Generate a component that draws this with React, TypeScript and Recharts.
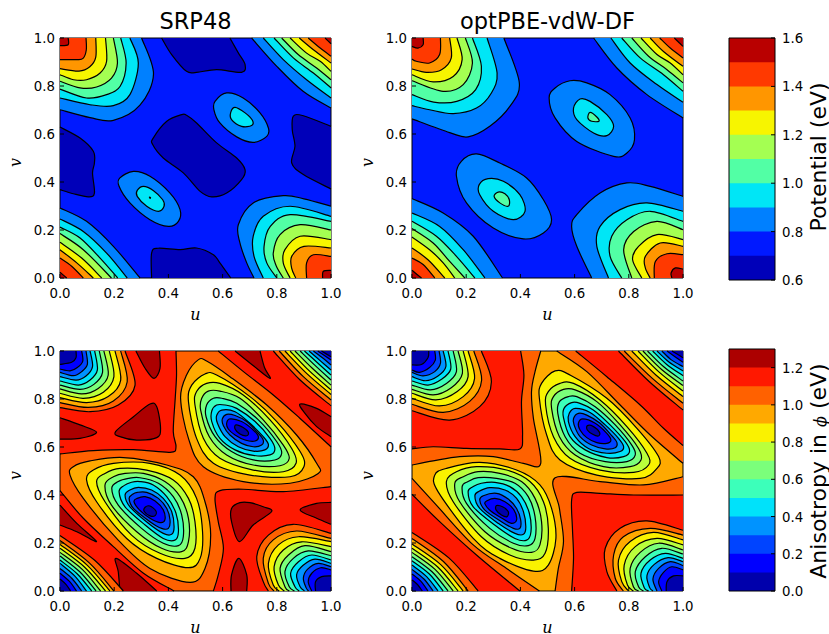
import React from 'react';
import {
  Label,
  ReferenceArea,
  Scatter,
  ScatterChart,
  XAxis,
  YAxis,
} from 'recharts';

type Pt = number[];
type Contour = [number, Pt[], Pt?];

const potentialBins = [0.6, 0.7, 0.8, 0.9, 1.0, 1.1, 1.2, 1.3, 1.4, 1.5];
const potentialColors = ['#0000b9', '#0019ff', '#0080ff', '#00e6f6', '#52ffa5', '#a4ff52', '#f7f500', '#ff9600', '#ff3900', '#b90000'];
const potentialTicks = [0.6, 0.8, 1.0, 1.2, 1.4, 1.6];

const anisotropyBins = [0, 0.1, 0.2, 0.3, 0.4, 0.5, 0.6, 0.7, 0.8, 0.9, 1.0, 1.1, 1.2];
const anisotropyColors = ['#0000ac', '#0000ff', '#0044ff', '#0093ff', '#00e2fa', '#3cffba', '#7bff7b', '#baff3c', '#faf200', '#ffa900', '#ff6100', '#ff1800', '#ac0000'];
const anisotropyTicks = [0, 0.2, 0.4, 0.6, 0.8, 1.0, 1.2];

const axisTicks = [0, 0.2, 0.4, 0.6, 0.8, 1.0];

// contours: [colour index, points in (u, v), corner that closes the region]
const srpPotential: Contour[] = [
  [0, [[.375,1],[.412,.931],[.467,.861],[.504,.857],[.578,.868],[.67,.857],[.683,.889],[.658,.938],[.627,1]]],
  [0, [[0,.629],[.074,.583],[.123,.528],[.127,.479],[.12,.438],[.127,.354],[.105,.338],[.049,.351],[0,.368]]],
  [0, [[1,.632],[.898,.676],[.861,.674],[.857,.618],[.867,.549],[.855,.479],[.898,.431],[1,.371]]],
  [0, [[.449,.681],[.394,.653],[.344,.583],[.342,.556],[.381,.5],[.455,.438],[.517,.361],[.56,.338],[.615,.354],[.67,.41],[.683,.451],[.652,.5],[.578,.563],[.504,.646],[.467,.678]]],
  [0, [[.338,0],[.338,.104],[.362,.124],[.443,.118],[.504,.125],[.566,.097],[.59,.063],[.63,0]]],
  [2, [[.615,.771],[.572,.736],[.568,.701],[.59,.646],[.652,.588],[.713,.565],[.763,.59],[.769,.625],[.738,.688],[.676,.75]]],
  [3, [[.646,.711],[.63,.69],[.633,.66],[.67,.632],[.707,.635],[.71,.657],[.683,.688]]],
  [2, [[.271,.444],[.221,.417],[.218,.382],[.258,.313],[.332,.243],[.4,.215],[.437,.236],[.443,.285],[.406,.354],[.332,.424]]],
  [3, [[.308,.382],[.285,.365],[.285,.34],[.32,.299],[.363,.278],[.384,.299],[.379,.326],[.344,.365]]],
  [4, [[.33,.337],[.334,.335],[.332,.332]]],
  // top left
  [2, [[.301,1],[.345,.85],[.295,.72],[.197,.657],[.111,.668],[0,.701]], [0,1]],
  [3, [[.258,1],[.289,.896],[.258,.764],[.197,.718],[.111,.722],[0,.75]], [0,1]],
  [4, [[.224,1],[.244,.896],[.222,.799],[.172,.764],[.098,.75],[0,.787]], [0,1]],
  [5, [[.197,1],[.212,.896],[.19,.833],[.135,.796],[.074,.792],[0,.82]], [0,1]],
  [6, [[.168,1],[.172,.903],[.148,.854],[.098,.826],[.05,.826],[0,.847]], [0,1]],
  [7, [[.132,1],[.132,.92],[.11,.88],[.07,.862],[0,.872]], [0,1]],
  [8, [[.096,1],[.097,.95],[.085,.915],[.06,.91],[0,.91]], [0,1]],
  [9, [[.03,1],[.03,.972],[0,.968]], [0,1]],
  // top right
  [2, [[.707,1],[.8,.882],[.897,.778],[1,.708]], [1,1]],
  [3, [[.75,1],[.824,.91],[.91,.826],[1,.75]], [1,1]],
  [4, [[.79,1],[.861,.917],[.935,.854],[1,.792]], [1,1]],
  [5, [[.818,1],[.879,.931],[.947,.875],[1,.826]], [1,1]],
  [6, [[.849,1],[.91,.937],[.96,.903],[1,.861]], [1,1]],
  [7, [[.883,1],[.935,.951],[1,.896]], [1,1]],
  [8, [[.916,1],[.96,.958],[1,.924]], [1,1]],
  [9, [[.978,1],[1,.976]], [1,1]],
  // bottom left
  [2, [[0,.292],[.098,.236],[.197,.132],[.295,0]], [0,0]],
  [3, [[0,.246],[.086,.194],[.172,.104],[.248,0]], [0,0]],
  [4, [[0,.212],[.074,.167],[.148,.083],[.213,0]], [0,0]],
  [5, [[0,.185],[.086,.118],[.19,0]], [0,0]],
  [6, [[0,.149],[.08,.083],[.154,0]], [0,0]],
  [7, [[0,.118],[.062,.063],[.123,0]], [0,0]],
  [8, [[0,.083],[.043,.049],[.086,0]], [0,0]],
  [9, [[0,.024],[.025,0]], [0,0]],
  // bottom right
  [2, [[1,.299],[.9,.33],[.824,.343],[.713,.313],[.658,.222],[.664,.146],[.689,.063],[.716,0]], [1,0]],
  [3, [[1,.257],[.849,.299],[.75,.257],[.713,.174],[.716,.09],[.75,0]], [1,0]],
  [4, [[1,.236],[.849,.264],[.776,.215],[.753,.132],[.763,.063],[.8,0]], [1,0]],
  [5, [[1,.2],[.886,.222],[.812,.181],[.787,.104],[.798,.05],[.824,0]], [1,0]],
  [6, [[1,.16],[.886,.174],[.83,.118],[.824,.062],[.849,0]], [1,0]],
  [7, [[1,.125],[.9,.132],[.855,.09],[.855,.04],[.87,0]], [1,0]],
  [8, [[1,.09],[.935,.097],[.91,.063],[.91,0]], [1,0]],
  [9, [[1,.032],[.972,.028],[.969,0]], [1,0]],
];

const optPotential: Contour[] = [
  [2, [[.583,.822],[.528,.792],[.506,.75],[.528,.667],[.608,.569],[.744,.507],[.793,.521],[.821,.576],[.805,.667],[.731,.764],[.645,.813]]],
  [3, [[.62,.746],[.596,.708],[.608,.66],[.67,.604],[.719,.593],[.744,.632],[.719,.681],[.657,.736]]],
  [4, [[.657,.69],[.649,.667],[.663,.653],[.69,.653],[.682,.671]]],
  [2, [[.238,.517],[.182,.486],[.164,.424],[.201,.313],[.3,.208],[.411,.163],[.485,.188],[.515,.243],[.485,.326],[.423,.417],[.324,.479]]],
  [3, [[.281,.414],[.248,.389],[.25,.347],[.3,.278],[.374,.243],[.417,.278],[.398,.347],[.337,.403]]],
  [4, [[.318,.358],[.303,.34],[.324,.313],[.355,.299],[.359,.326],[.343,.351]]],
  // top left
  [2, [[.339,1],[.396,.813],[.361,.715],[.287,.632],[.207,.588],[.139,.606],[0,.663]], [0,1]],
  [3, [[.277,1],[.314,.854],[.293,.771],[.238,.708],[.152,.685],[.065,.701],[0,.718]], [0,1]],
  [4, [[.223,1],[.256,.882],[.235,.785],[.165,.736],[.08,.733],[0,.764]], [0,1]],
  [5, [[.197,1],[.223,.896],[.189,.806],[.115,.778],[0,.822]], [0,1]],
  [6, [[.166,1],[.185,.91],[.152,.84],[.078,.817],[0,.847]], [0,1]],
  [7, [[.139,1],[.145,.917],[.109,.868],[.053,.857],[0,.871]], [0,1]],
  [8, [[.105,1],[.102,.931],[.065,.896],[.016,.903],[0,.912]], [0,1]],
  [9, [[.041,1],[.041,.972],[.022,.958],[0,.965]], [0,1]],
  // top right
  [2, [[.67,1],[.756,.875],[.867,.764],[1,.667]], [1,1]],
  [3, [[.734,1],[.805,.896],[.904,.806],[1,.732]], [1,1]],
  [4, [[.774,1],[.842,.917],[.928,.847],[1,.778]], [1,1]],
  [5, [[.811,1],[.873,.924],[.941,.868],[1,.813]], [1,1]],
  [6, [[.845,1],[.904,.931],[.953,.896],[1,.847]], [1,1]],
  [7, [[.879,1],[.928,.944],[1,.882]], [1,1]],
  [8, [[.914,1],[.953,.958],[1,.917]], [1,1]],
  [9, [[.968,1],[1,.965]], [1,1]],
  // bottom left
  [2, [[0,.331],[.115,.271],[.226,.174],[.334,0]], [0,0]],
  [3, [[0,.271],[.102,.215],[.189,.118],[.269,0]], [0,0]],
  [4, [[0,.236],[.09,.174],[.164,.09],[.232,0]], [0,0]],
  [5, [[0,.206],[.078,.146],[.139,.069],[.195,0]], [0,0]],
  [6, [[0,.171],[.065,.118],[.115,.063],[.158,0]], [0,0]],
  [7, [[0,.125],[.059,.076],[.121,0]], [0,0]],
  [8, [[0,.083],[.041,.056],[.084,0]], [0,0]],
  [9, [[0,.032],[.035,0]], [0,0]],
  // bottom right
  [2, [[1,.34],[.879,.382],[.793,.396],[.694,.354],[.608,.264],[.589,.215],[.608,.132],[.663,0]], [1,0]],
  [3, [[1,.278],[.867,.313],[.768,.285],[.694,.215],[.682,.132],[.725,0]], [1,0]],
  [4, [[1,.236],[.879,.278],[.793,.243],[.737,.174],[.731,.09],[.774,0]], [1,0]],
  [5, [[1,.201],[.904,.236],[.818,.194],[.781,.118],[.811,0]], [1,0]],
  [6, [[1,.16],[.904,.181],[.836,.132],[.814,.076],[.848,0]], [1,0]],
  [7, [[1,.132],[.916,.146],[.861,.09],[.861,.042],[.879,0]], [1,0]],
  [8, [[1,.097],[.941,.101],[.898,.069],[.894,0]], [1,0]],
  [9, [[1,.037],[.972,.042],[.956,.021],[.959,0]], [1,0]],
];

const srpAnisotropy: Contour[] = [
  // red regions
  [11, [[.428,1],[.43,.9],[.425,.8],[.418,.665],[.428,.6],[.406,.578],[.271,.589],[.123,.585],[0,.571]], [0,1]],
  [11, [[.584,1],[.677,.914],[.787,.817],[.886,.719],[1,.601]], [1,1]],
  [11, [[0,.418],[.086,.303],[.197,.185],[.308,.074],[.421,0]], [0,0]],
  [11, [[1,.435],[.824,.414],[.676,.424],[.59,.418],[.572,.386],[.584,.289],[.603,.178],[.584,.067],[.566,0]], [1,0]],
  // dark red patches
  [12, [[.646,1],[.71,.942],[.775,.886],[.755,.93],[.738,1]]],
  [12, [[.28,1],[.314,.928],[.347,.886],[.369,.928],[.367,1]]],
  [12, [[0,.722],[.074,.692],[.135,.661],[.074,.636],[0,.633]]],
  [12, [[.205,.664],[.271,.726],[.332,.779],[.357,.768],[.371,.678],[.357,.639],[.283,.629],[.221,.643]]],
  [12, [[1,.726],[.947,.761],[.886,.779],[.904,.74],[.947,.685],[1,.643]]],
  [12, [[.664,.368],[.633,.344],[.633,.289],[.662,.206],[.713,.275],[.781,.331],[.75,.351],[.701,.368]]],
  [12, [[1,.369],[.947,.365],[.886,.338],[.947,.303],[1,.278]]],
  [12, [[0,.358],[.062,.282],[.135,.206],[.062,.247],[0,.275]]],
  [12, [[.221,0],[.215,.08],[.207,.136],[.283,.074],[.357,0]]],
  [12, [[.631,0],[.633,.067],[.66,.136],[.689,.067],[.689,0]]],
  // top left
  [10, [[.24,1],[.277,.858],[.215,.775],[.111,.747],[0,.764]], [0,1]],
  [9, [[.224,1],[.248,.872],[.197,.792],[.105,.765],[0,.785]], [0,1]],
  [8, [[.203,1],[.224,.879],[.178,.81],[.098,.785],[0,.806]], [0,1]],
  [7, [[.182,1],[.199,.893],[.16,.828],[.086,.803],[0,.824]], [0,1]],
  [6, [[.162,1],[.178,.9],[.141,.844],[.08,.821],[0,.842]], [0,1]],
  [5, [[.145,1],[.157,.911],[.125,.861],[.074,.84],[0,.858]], [0,1]],
  [4, [[.128,1],[.138,.921],[.111,.879],[.068,.858],[0,.875]], [0,1]],
  [3, [[.111,1],[.12,.935],[.096,.896],[.059,.879],[0,.893]], [0,1]],
  [2, [[.096,1],[.101,.944],[.08,.914],[.049,.897],[0,.911]], [0,1]],
  [1, [[.08,1],[.084,.958],[.064,.931],[.037,.917],[0,.925]], [0,1]],
  [0, [[.059,1],[.059,.972],[.043,.953],[0,.944]], [0,1]],
  // top right
  [10, [[.787,1],[.886,.879],[1,.772]], [1,1]],
  [9, [[.809,1],[.898,.893],[1,.796]], [1,1]],
  [8, [[.83,1],[.91,.907],[1,.819]], [1,1]],
  [7, [[.849,1],[.92,.917],[1,.838]], [1,1]],
  [6, [[.867,1],[.931,.928],[1,.858]], [1,1]],
  [5, [[.886,1],[.942,.939],[1,.879]], [1,1]],
  [4, [[.902,1],[.952,.949],[1,.9]], [1,1]],
  [3, [[.919,1],[.962,.958],[1,.921]], [1,1]],
  [2, [[.935,1],[.972,.969],[1,.942]], [1,1]],
  [1, [[.951,1],[1,.963]], [1,1]],
  [0, [[.965,1],[1,.976]], [1,1]],
  // bottom left
  [10, [[0,.231],[.129,.127],[.234,0]], [0,0]],
  [9, [[0,.21],[.11,.115],[.199,0]], [0,0]],
  [8, [[0,.194],[.101,.107],[.184,0]], [0,0]],
  [7, [[0,.178],[.092,.098],[.168,0]], [0,0]],
  [6, [[0,.161],[.083,.089],[.15,0]], [0,0]],
  [5, [[0,.146],[.073,.08],[.133,0]], [0,0]],
  [4, [[0,.129],[.064,.071],[.117,0]], [0,0]],
  [3, [[0,.115],[.054,.063],[.098,0]], [0,0]],
  [2, [[0,.094],[.044,.052],[.08,0]], [0,0]],
  [1, [[0,.074],[.034,.041],[.061,0]], [0,0]],
  [0, [[0,.05],[.022,.028],[.039,0]], [0,0]],
  // bottom right
  [10, [[1,.24],[.861,.278],[.769,.233],[.726,.143],[.75,.039],[.769,0]], [1,0]],
  [9, [[1,.219],[.873,.25],[.787,.213],[.75,.136],[.769,.032],[.79,0]], [1,0]],
  [8, [[1,.206],[.88,.226],[.806,.192],[.769,.115],[.787,.025],[.809,0]], [1,0]],
  [7, [[1,.185],[.892,.205],[.824,.171],[.79,.101],[.806,.025],[.828,0]], [1,0]],
  [6, [[1,.164],[.904,.189],[.843,.15],[.812,.094],[.83,.018],[.846,0]], [1,0]],
  [5, [[1,.147],[.916,.167],[.861,.136],[.83,.081],[.846,.018],[.865,0]], [1,0]],
  [4, [[1,.129],[.929,.15],[.88,.122],[.851,.074],[.867,.018],[.883,0]], [1,0]],
  [3, [[1,.115],[.941,.133],[.896,.106],[.873,.067],[.886,.018],[.902,0]], [1,0]],
  [2, [[1,.101],[.953,.115],[.913,.09],[.898,.053],[.908,.014],[.917,0]], [1,0]],
  [1, [[1,.088],[.962,.097],[.929,.074],[.916,.039],[.929,0]], [1,0]],
  [0, [[1,.063],[.966,.06],[.943,.039],[.943,0]], [1,0]],
  // upper well
  [9, [[.51,.963],[.467,.9],[.445,.803],[.474,.636],[.529,.518],[.676,.456],[.849,.449],[.953,.49],[.947,.532],[.873,.65],[.763,.775],[.627,.893],[.541,.958]]],
  [8, [[.535,.904],[.486,.858],[.474,.789],[.504,.636],[.566,.532],[.701,.483],[.849,.476],[.9,.518],[.886,.581],[.8,.706],[.701,.81],[.578,.9]]],
  [7, [[.541,.865],[.504,.831],[.498,.775],[.529,.636],[.59,.553],[.713,.504],[.824,.497],[.871,.532],[.855,.594],[.775,.713],[.676,.817],[.59,.865]]],
  [6, [[.547,.833],[.523,.803],[.519,.754],[.551,.643],[.615,.567],[.713,.525],[.812,.522],[.846,.553],[.824,.608],[.75,.713],[.664,.803],[.59,.833]]],
  [5, [[.566,.803],[.541,.775],[.539,.726],[.572,.643],[.633,.581],[.713,.546],[.793,.546],[.818,.574],[.8,.622],[.732,.713],[.652,.782],[.597,.803]]],
  [4, [[.578,.775],[.56,.75],[.56,.706],[.59,.636],[.646,.588],[.713,.565],[.775,.567],[.793,.592],[.775,.636],[.72,.706],[.652,.761],[.609,.775]]],
  [3, [[.597,.754],[.578,.731],[.581,.699],[.609,.643],[.658,.601],[.713,.583],[.756,.588],[.769,.611],[.75,.643],[.701,.699],[.646,.747]]],
  [2, [[.615,.736],[.599,.717],[.603,.689],[.627,.65],[.67,.615],[.713,.601],[.744,.608],[.75,.629],[.732,.657],[.689,.706],[.646,.731]]],
  [1, [[.627,.717],[.615,.699],[.621,.675],[.646,.65],[.683,.629],[.72,.625],[.732,.643],[.713,.671],[.67,.706]]],
  [0, [[.649,.692],[.646,.675],[.664,.654],[.689,.647],[.695,.661],[.676,.681]]],
  // lower well
  [9, [[.049,.518],[.037,.483],[.086,.386],[.209,.219],[.332,.094],[.48,.036],[.535,.094],[.556,.233],[.535,.372],[.492,.476],[.394,.525],[.234,.556],[.111,.542]]],
  [8, [[.123,.504],[.098,.463],[.135,.372],[.246,.219],[.357,.136],[.474,.097],[.517,.136],[.526,.247],[.504,.386],[.443,.483],[.332,.532],[.197,.532]]],
  [7, [[.166,.49],[.135,.456],[.166,.372],[.264,.233],[.369,.157],[.461,.136],[.498,.178],[.498,.289],[.474,.386],[.418,.463],[.32,.504],[.221,.511]]],
  [6, [[.197,.476],[.166,.442],[.19,.358],[.283,.247],[.375,.178],[.449,.164],[.474,.206],[.474,.303],[.443,.393],[.387,.456],[.308,.49],[.24,.49]]],
  [5, [[.215,.456],[.191,.428],[.215,.358],[.301,.261],[.381,.199],[.437,.189],[.455,.226],[.449,.317],[.418,.393],[.363,.449],[.295,.472],[.252,.469]]],
  [4, [[.236,.439],[.218,.414],[.24,.351],[.314,.275],[.381,.219],[.424,.212],[.437,.247],[.428,.324],[.394,.393],[.344,.442],[.295,.456],[.264,.453]]],
  [3, [[.258,.421],[.24,.4],[.258,.351],[.326,.282],[.381,.24],[.412,.236],[.421,.268],[.412,.331],[.381,.386],[.338,.421],[.289,.432]]],
  [2, [[.268,.403],[.255,.386],[.271,.344],[.332,.289],[.375,.261],[.4,.261],[.406,.296],[.394,.344],[.363,.386],[.32,.411],[.285,.411]]],
  [1, [[.285,.386],[.273,.372],[.293,.338],[.332,.303],[.369,.285],[.387,.296],[.381,.338],[.351,.375],[.314,.393]]],
  [0, [[.314,.349],[.311,.331],[.332,.313],[.351,.314],[.354,.333],[.332,.354]]],
];

const optAnisotropy: Contour[] = [
  // orange regions
  [10, [[.475,1],[.454,.914],[.441,.831],[.448,.719],[.475,.532],[.411,.532],[.3,.56],[.176,.56],[.078,.542],[0,.525]], [0,1]],
  [10, [[.534,1],[.645,.914],[.768,.775],[.879,.65],[1,.532]], [1,1]],
  [10, [[1,.476],[.854,.442],[.694,.456],[.528,.472],[.544,.344],[.559,.206],[.54,.094],[.528,0]], [1,0]],
  [10, [[0,.469],[.09,.358],[.226,.192],[.349,.094],[.47,0]], [0,0]],
  // red regions
  [11, [[.401,1],[.413,.9],[.404,.789],[.408,.65],[.398,.592],[.324,.592],[.201,.594],[.078,.601],[0,.592]], [0,1]],
  [11, [[.604,1],[.719,.893],[.842,.775],[.928,.678],[1,.606]], [1,1]],
  [11, [[1,.4],[.818,.4],[.694,.407],[.608,.411],[.589,.379],[.592,.261],[.596,.136],[.589,0]], [1,0]],
  [11, [[0,.403],[.102,.289],[.238,.15],[.398,0]], [0,0]],
  // top left
  [10, [[.256,1],[.293,.872],[.25,.768],[.139,.712],[0,.751]], [0,1]],
  [9, [[.228,1],[.257,.879],[.213,.79],[.115,.744],[0,.778]], [0,1]],
  [8, [[.207,1],[.231,.886],[.189,.81],[.102,.771],[0,.803]], [0,1]],
  [7, [[.189,1],[.207,.893],[.167,.831],[.088,.796],[0,.824]], [0,1]],
  [6, [[.17,1],[.186,.907],[.145,.847],[.078,.817],[0,.84]], [0,1]],
  [5, [[.152,1],[.164,.914],[.127,.865],[.068,.838],[0,.858]], [0,1]],
  [4, [[.133,1],[.143,.925],[.109,.882],[.059,.858],[0,.875]], [0,1]],
  [3, [[.115,1],[.125,.935],[.096,.896],[.05,.876],[0,.893]], [0,1]],
  [2, [[.1,1],[.105,.949],[.084,.914],[.041,.896],[0,.911]], [0,1]],
  [1, [[.084,1],[.086,.962],[.065,.931],[.028,.911],[0,.921]], [0,1]],
  [0, [[.062,1],[.059,.972],[.035,.944],[0,.942]], [0,1]],
  // top right
  [10, [[.762,1],[.876,.872],[1,.754]], [1,1]],
  [9, [[.783,1],[.887,.886],[1,.782]], [1,1]],
  [8, [[.811,1],[.9,.9],[1,.81]], [1,1]],
  [7, [[.834,1],[.912,.912],[1,.833]], [1,1]],
  [6, [[.852,1],[.921,.923],[1,.856]], [1,1]],
  [5, [[.869,1],[.93,.933],[1,.875]], [1,1]],
  [4, [[.888,1],[.94,.944],[1,.897]], [1,1]],
  [3, [[.904,1],[.948,.954],[1,.917]], [1,1]],
  [2, [[.922,1],[.957,.963],[1,.935]], [1,1]],
  [1, [[.941,1],[1,.953]], [1,1]],
  [0, [[.959,1],[1,.972]], [1,1]],
  // bottom left
  [10, [[0,.244],[.137,.137],[.244,0]], [0,0]],
  [9, [[0,.219],[.116,.123],[.207,0]], [0,0]],
  [8, [[0,.196],[.106,.11],[.189,0]], [0,0]],
  [7, [[0,.178],[.095,.1],[.17,0]], [0,0]],
  [6, [[0,.161],[.085,.09],[.152,0]], [0,0]],
  [5, [[0,.143],[.074,.08],[.133,0]], [0,0]],
  [4, [[0,.126],[.064,.071],[.115,0]], [0,0]],
  [3, [[0,.108],[.054,.06],[.096,0]], [0,0]],
  [2, [[0,.09],[.044,.05],[.078,0]], [0,0]],
  [1, [[0,.071],[.033,.04],[.059,0]], [0,0]],
  [0, [[0,.046],[.021,.026],[.038,0]], [0,0]],
  // bottom right
  [10, [[1,.253],[.867,.292],[.768,.261],[.713,.178],[.719,.081],[.756,0]], [1,0]],
  [9, [[1,.233],[.879,.261],[.78,.226],[.744,.15],[.75,.053],[.78,0]], [1,0]],
  [8, [[1,.213],[.891,.244],[.805,.206],[.762,.129],[.774,.039],[.799,0]], [1,0]],
  [7, [[1,.192],[.904,.219],[.824,.185],[.783,.108],[.795,.025],[.817,0]], [1,0]],
  [6, [[1,.171],[.91,.199],[.842,.161],[.805,.094],[.817,.018],[.836,0]], [1,0]],
  [5, [[1,.154],[.922,.178],[.861,.143],[.824,.081],[.836,.018],[.854,0]], [1,0]],
  [4, [[1,.136],[.935,.157],[.879,.129],[.845,.074],[.857,.014],[.873,0]], [1,0]],
  [3, [[1,.122],[.945,.139],[.894,.111],[.867,.064],[.877,.014],[.889,0]], [1,0]],
  [2, [[1,.106],[.953,.122],[.91,.094],[.889,.05],[.904,0]], [1,0]],
  [1, [[1,.088],[.959,.101],[.928,.078],[.91,.039],[.922,0]], [1,0]],
  [0, [[1,.063],[.965,.063],[.941,.039],[.938,0]], [1,0]],
  // upper well
  [8, [[.528,.917],[.478,.865],[.47,.803],[.497,.65],[.546,.546],[.682,.483],[.842,.469],[.904,.511],[.91,.56],[.83,.678],[.719,.803],[.583,.9]]],
  [7, [[.546,.865],[.503,.831],[.493,.775],[.522,.643],[.583,.553],[.694,.504],[.818,.494],[.873,.525],[.867,.574],[.793,.685],[.694,.796],[.596,.865]]],
  [6, [[.559,.84],[.522,.81],[.515,.761],[.544,.643],[.602,.567],[.707,.518],[.805,.518],[.845,.546],[.836,.594],[.768,.692],[.682,.789],[.602,.838]]],
  [5, [[.577,.81],[.544,.789],[.538,.74],[.565,.643],[.62,.574],[.713,.539],[.793,.539],[.824,.567],[.811,.608],[.75,.692],[.676,.768],[.608,.81]]],
  [4, [[.589,.785],[.561,.761],[.559,.722],[.583,.643],[.639,.588],[.719,.556],[.781,.56],[.803,.583],[.787,.622],[.731,.692],[.669,.754],[.62,.782]]],
  [3, [[.602,.761],[.58,.74],[.577,.706],[.602,.643],[.651,.594],[.719,.574],[.768,.581],[.781,.601],[.762,.636],[.713,.692],[.657,.744]]],
  [2, [[.614,.74],[.596,.719],[.598,.692],[.62,.643],[.663,.608],[.713,.592],[.75,.597],[.756,.619],[.737,.647],[.694,.699],[.645,.733]]],
  [1, [[.63,.717],[.614,.699],[.62,.671],[.645,.639],[.682,.618],[.719,.615],[.734,.629],[.719,.657],[.676,.699]]],
  [0, [[.647,.689],[.647,.671],[.667,.653],[.688,.646],[.692,.661],[.67,.685]]],
  // lower well
  [8, [[.127,.511],[.084,.483],[.096,.414],[.226,.219],[.324,.136],[.448,.083],[.503,.108],[.531,.219],[.515,.344],[.472,.442],[.386,.504],[.25,.536]]],
  [7, [[.164,.497],[.127,.456],[.152,.372],[.256,.226],[.361,.15],[.448,.129],[.491,.157],[.503,.261],[.485,.372],[.435,.456],[.349,.504],[.238,.518]]],
  [6, [[.189,.476],[.158,.449],[.176,.372],[.269,.247],[.368,.178],[.441,.161],[.472,.192],[.478,.289],[.454,.386],[.404,.456],[.324,.49],[.244,.497]]],
  [5, [[.207,.456],[.185,.435],[.201,.365],[.287,.261],[.374,.199],[.429,.189],[.454,.219],[.454,.31],[.429,.393],[.38,.449],[.312,.469],[.244,.472]]],
  [4, [[.226,.435],[.207,.414],[.226,.351],[.305,.275],[.38,.219],[.423,.212],[.439,.247],[.433,.324],[.404,.393],[.361,.435],[.306,.453],[.256,.449]]],
  [3, [[.25,.417],[.232,.397],[.25,.344],[.318,.282],[.38,.24],[.411,.236],[.42,.268],[.411,.331],[.386,.386],[.343,.421],[.287,.431]]],
  [2, [[.263,.397],[.25,.379],[.269,.337],[.33,.289],[.374,.261],[.398,.261],[.401,.296],[.386,.344],[.355,.383],[.312,.407]]],
  [1, [[.277,.376],[.269,.363],[.293,.331],[.337,.3],[.367,.282],[.386,.296],[.376,.338],[.343,.372],[.306,.386]]],
  [0, [[.312,.356],[.31,.338],[.33,.317],[.351,.31],[.355,.331],[.334,.351]]],
];

const sans = '"DejaVu Sans", sans-serif';
const serif = '"DejaVu Serif", serif';

// catmull-rom through the picked points
function splinePath(pts: { x: number; y: number }[], closed: boolean) {
  const n = pts.length;
  const at = (i: number) => (closed ? pts[(i + n) % n] : pts[Math.max(0, Math.min(n - 1, i))]);
  let d = `M${pts[0].x},${pts[0].y}`;
  const last = closed ? n : n - 1;
  for (let i = 0; i < last; i++) {
    const p0 = at(i - 1);
    const p1 = at(i);
    const p2 = at(i + 1);
    const p3 = at(i + 2);
    d += `C${p1.x + (p2.x - p0.x) / 6},${p1.y + (p2.y - p0.y) / 6} ${p2.x - (p3.x - p1.x) / 6},${p2.y - (p3.y - p1.y) / 6} ${p2.x},${p2.y}`;
  }
  return closed ? d + 'Z' : d;
}

const onFrame = (p: Pt) => p[0] === 0 || p[0] === 1 || p[1] === 0 || p[1] === 1;

function contourLine(contour: Contour, colors: string[]) {
  const [level, pts, corner] = contour;
  const closed = !onFrame(pts[0]);
  return (props: any) => {
    const curve = props.points.slice(0, pts.length);
    const d = splinePath(curve, closed);
    const tail = corner ? `L${props.points[pts.length].x},${props.points[pts.length].y}` : '';
    return (
      <g>
        <path d={`${d}${tail}${closed ? '' : 'Z'}`} fill={colors[level]} stroke="none" />
        <path d={d} fill="none" stroke="#000" strokeWidth={1.2} />
      </g>
    );
  };
}

const NoPoint = () => null;

const BottomTick = ({ x, y, payload }: any) => (
  <g>
    <line x1={x} x2={x} y1={y} y2={y - 4} stroke="#000" />
    <text x={x} y={y + 20} textAnchor="middle" fontSize={13.3} fontFamily={sans} fill="#000">
      {payload.value.toFixed(1)}
    </text>
  </g>
);
const TopTick = ({ x, y }: any) => <line x1={x} x2={x} y1={y} y2={y + 4} stroke="#000" />;
const LeftTick = ({ x, y, payload }: any) => (
  <g>
    <line x1={x} x2={x + 4} y1={y} y2={y} stroke="#000" />
    <text x={x - 5} y={y + 5} textAnchor="end" fontSize={13.3} fontFamily={sans} fill="#000">
      {payload.value.toFixed(1)}
    </text>
  </g>
);
const RightTick = ({ x, y }: any) => <line x1={x} x2={x - 4} y1={y} y2={y} stroke="#000" />;
const BarTick = ({ x, y, payload }: any) => (
  <g>
    <line x1={x} x2={x - 4} y1={y} y2={y} stroke="#000" />
    <text x={x + 7} y={y + 5} textAnchor="start" fontSize={13.3} fontFamily={sans} fill="#000">
      {payload.value.toFixed(1)}
    </text>
  </g>
);

const axisLine = { stroke: '#000', strokeWidth: 1 };

interface PanelProps {
  contours: Contour[];
  colors: string[];
  background: number;
  left: number;
  top: number;
  title?: string;
}

function Panel({ contours, colors, background, left, top, title }: PanelProps) {
  return (
    <div style={{ position: 'absolute', left, top }}>
      <ScatterChart width={345} height={332} margin={{ top: 37, left: 59, right: 13, bottom: 53 }}>
        <ReferenceArea x1={0} x2={1} y1={0} y2={1} fill={colors[background]} fillOpacity={1} stroke="none" />
        {contours.map((contour, i) => (
          <Scatter
            key={i}
            data={[...contour[1], ...(contour[2] ? [contour[2]] : [])].map(([u, v]) => ({ u, v }))}
            dataKey="v"
            shape={NoPoint}
            line={contourLine(contour, colors)}
            isAnimationActive={false}
          />
        ))}
        <XAxis type="number" dataKey="u" domain={[0, 1]} ticks={axisTicks} interval={0} height={1} tickSize={0} tickMargin={0} tickLine={false} axisLine={axisLine} tick={BottomTick}>
          <Label value="u" position="bottom" offset={30} fontSize={16} fontStyle="italic" fontFamily={serif} fill="#000" />
        </XAxis>
        <XAxis xAxisId="top" orientation="top" type="number" domain={[0, 1]} ticks={axisTicks} interval={0} height={1} tickSize={0} tickMargin={0} tickLine={false} axisLine={axisLine} tick={TopTick}>
          {title && <Label value={title} position="top" offset={8} fontSize={22.5} fontFamily={sans} fill="#000" />}
        </XAxis>
        <YAxis type="number" dataKey="v" domain={[0, 1]} ticks={axisTicks} interval={0} width={1} tickSize={0} tickMargin={0} tickLine={false} axisLine={axisLine} tick={LeftTick}>
          <Label value="v" position="left" offset={44} angle={-90} fontSize={16} fontStyle="italic" fontFamily={serif} fill="#000" />
        </YAxis>
        <YAxis yAxisId="right" orientation="right" type="number" domain={[0, 1]} ticks={axisTicks} interval={0} width={1} tickSize={0} tickMargin={0} tickLine={false} axisLine={axisLine} tick={RightTick} />
      </ScatterChart>
    </div>
  );
}

interface ColorBarProps {
  bins: number[];
  colors: string[];
  ticks: number[];
  domain: number[];
  top: number;
  height: number;
  renderLabel: (props: any) => React.ReactElement;
}

function ColorBar({ bins, colors, ticks, domain, top, height, renderLabel }: ColorBarProps) {
  return (
    <div style={{ position: 'absolute', left: 700, top }}>
      <ScatterChart width={129} height={height + 24} margin={{ top: 12, bottom: 12, left: 29, right: 53 }}>
        {/* each band runs up to the top, so no seams show between neighbours */}
        {bins.map((lo, i) => (
          <ReferenceArea key={lo} x1={0} x2={1} y1={lo} y2={domain[1]} fill={colors[i]} fillOpacity={1} stroke="none" />
        ))}
        <ReferenceArea x1={0} x2={1} y1={domain[0]} y2={domain[1]} fill="none" stroke="#000" strokeWidth={1} />
        <Scatter data={bins.map((lo) => ({ x: 0.5, lo }))} dataKey="lo" shape={NoPoint} isAnimationActive={false} />
        <XAxis type="number" dataKey="x" domain={[0, 1]} hide />
        <YAxis orientation="right" type="number" dataKey="lo" domain={domain} ticks={ticks} interval={0} width={1} tickSize={0} tickMargin={0} tickLine={false} axisLine={false} tick={BarTick}>
          <Label content={renderLabel} />
        </YAxis>
      </ScatterChart>
    </div>
  );
}

const barLabelStyle = { fontSize: 22, fontFamily: sans, fill: '#000', textAnchor: 'middle' } as const;

const PotentialLabel = ({ viewBox }: any) => {
  const x = viewBox.x + 51;
  const y = viewBox.y + viewBox.height / 2 - 2;
  return (
    <text x={x} y={y} transform={`rotate(-90 ${x} ${y})`} {...barLabelStyle}>
      Potential (eV)
    </text>
  );
};

const AnisotropyLabel = ({ viewBox }: any) => {
  const x = viewBox.x + 51;
  const y = viewBox.y + viewBox.height / 2 + 1;
  return (
    <text x={x} y={y} transform={`rotate(-90 ${x} ${y})`} {...barLabelStyle}>
      Anisotropy in <tspan fontFamily={serif} fontStyle="italic" fontSize={16}>ϕ</tspan> (eV)
    </text>
  );
};

export default function App() {
  return (
    <div style={{ position: 'absolute', left: 0, top: 0, width: 829, height: 634, background: '#fff', overflow: 'hidden' }}>
      <Panel contours={srpPotential} colors={potentialColors} background={1} left={0} top={0} title="SRP48" />
      <Panel contours={optPotential} colors={potentialColors} background={1} left={352} top={0} title="optPBE-vdW-DF" />
      <Panel contours={srpAnisotropy} colors={anisotropyColors} background={10} left={0} top={313} />
      <Panel contours={optAnisotropy} colors={anisotropyColors} background={9} left={352} top={313} />
      <ColorBar bins={potentialBins} colors={potentialColors} ticks={potentialTicks} domain={[0.6, 1.6]} top={26} height={242} renderLabel={PotentialLabel} />
      <ColorBar bins={anisotropyBins} colors={anisotropyColors} ticks={anisotropyTicks} domain={[0, 1.3]} top={337} height={242} renderLabel={AnisotropyLabel} />
    </div>
  );
}
